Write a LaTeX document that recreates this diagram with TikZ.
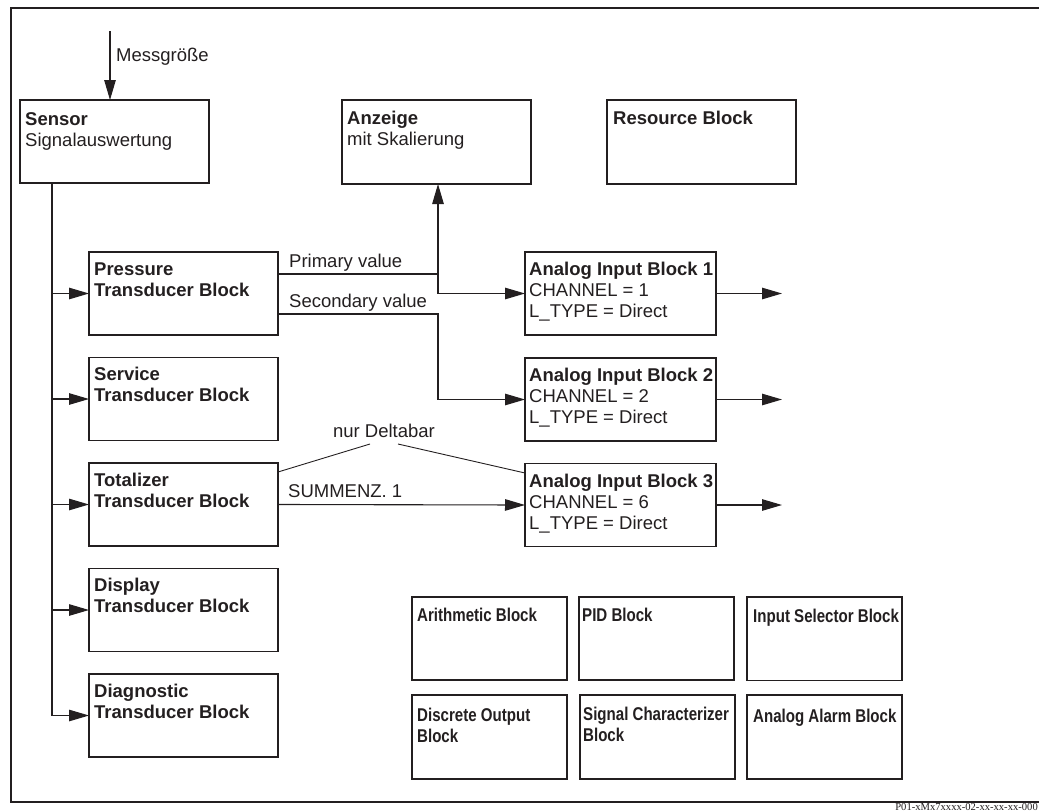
\documentclass[tikz,border=0pt]{standalone}
\usepackage{fontspec}
\setmainfont{Liberation Sans}
\newfontfamily\footfont{Liberation Serif}
\usepackage{graphicx}
\usetikzlibrary{arrows.meta,calc}
\definecolor{ink}{RGB}{35,31,32}
\newcommand{\cx}[1]{\scalebox{0.815}[1]{#1}}
\begin{document}
\begin{tikzpicture}[x=1pt,y=-1pt,
  box/.style={draw=ink, line width=1.4pt, inner sep=0pt, outer sep=0pt, anchor=north west, minimum height=83pt},
  wbox/.style={box, minimum width=189pt},
  abox/.style={box, minimum width=191pt},
  sbox/.style={box, minimum width=155pt},
  txt/.style={anchor=base west, inner sep=0pt, align=left, text=ink, font=\fontsize{18.5}{21}\selectfont},
  lab/.style={anchor=base west, inner sep=0pt, text=ink, font=\fontsize{18.5}{21}\selectfont},
  con/.style={draw=ink, line width=1.1pt},
  arr/.style={con, -{Triangle[length=20pt,width=11.5pt]}},
]
\useasboundingbox (0,0) rectangle (1039,811);

% frame
\draw[ink, line width=1.6pt] (1039,8) -- (11,8) -- (11,802) -- (1039,802);

% top row (text anchors at baseline of last line)
\node[wbox] (sensor) at (20,100) {};
\node[txt] (sensorT) at (25,146) {\textbf{Sensor}\\Signalauswertung};
\node[wbox, minimum height=84pt] (anz) at (342,100) {};
\node[txt] (anzT) at (347,145) {\textbf{Anzeige}\\mit Skalierung};
\node[wbox, minimum height=84pt] (res) at (607,100) {};
\node[txt] (resT) at (613,124) {\textbf{Resource Block}};

% input arrow
\coordinate (mtop) at (110,31);
\draw[arr] (mtop) -- (sensor.north -| mtop);
\node[lab] (mess) at (116,61) {Messgröße};

% transducer blocks
\node[wbox] (press) at (89,252) {};
\node[txt] (pressT) at (94,296.7) {\textbf{Pressure}\\\textbf{Transducer Block}};
\node[wbox] (serv) at (89,357.5) {};
\node[txt] (servT) at (94,401.5) {\textbf{Service}\\\textbf{Transducer Block}};
\node[wbox] (tot) at (89,463) {};
\node[txt] (totT) at (94,507) {\textbf{Totalizer}\\\textbf{Transducer Block}};
\node[wbox] (disp) at (89,568.5) {};
\node[txt] (dispT) at (94,612.5) {\textbf{Display}\\\textbf{Transducer Block}};
\node[wbox] (diag) at (89,674) {};
\node[txt] (diagT) at (94,718) {\textbf{Diagnostic}\\\textbf{Transducer Block}};

% trunk
\coordinate (t0) at (52,183);
\draw[con] (t0) -- (t0 |- diag.west);
\foreach \b in {press,serv,tot,disp,diag}{
  \draw[arr] (t0 |- \b.west) -- (\b.west);
}

% analog input blocks
\node[abox] (ai1) at (525,252) {};
\node[txt] (ai1T) at (529,317.5) {\textbf{Analog Input Block 1}\\CHANNEL = 1\\L\_TYPE = Direct};
\node[abox] (ai2) at (525,358) {};
\node[txt] (ai2T) at (529,423.5) {\textbf{Analog Input Block 2}\\CHANNEL = 2\\L\_TYPE = Direct};
\node[abox] (ai3) at (525,463.5) {};
\node[txt] (ai3T) at (529,529) {\textbf{Analog Input Block 3}\\CHANNEL = 6\\L\_TYPE = Direct};

% primary value
\coordinate (p1) at (278,274);
\coordinate (j1) at (438,274);
\draw[con] (p1) -- (j1);
\draw[arr] (j1) -- (anz.south -| j1);
\draw[arr] (j1) |- (ai1.west);
\node[lab] (pvT) at (289,267) {Primary value};

% secondary value
\coordinate (p2) at (278,314);
\coordinate (j2) at (438,314);
\draw[arr] (p2) -- (j2) |- (ai2.west);
\node[lab] (svT) at (289,307) {Secondary value};

% totalizer
\draw[arr] (tot.east) -- (ai3.west);
\node[lab] (sumT) at (288,497.5) {SUMMENZ. 1};

% nur Deltabar
\node[lab, anchor=base] (nd) at (384,437.5) {nur Deltabar};
\coordinate (nd1) at (370,444);
\coordinate (nd2) at (398,444);
\coordinate (tl) at (278,472);
\coordinate (ar) at (525,473);
\draw[ink, line width=0.9pt] (tl) -- (nd1);
\draw[ink, line width=0.9pt] (nd2) -- (ar);

% outputs
\coordinate (o1) at ($(ai1.east)+(66,0)$);
\coordinate (o2) at ($(ai2.east)+(66,0)$);
\coordinate (o3) at ($(ai3.east)+(66,0)$);
\draw[arr] (ai1.east) -- (o1);
\draw[arr] (ai2.east) -- (o2);
\draw[arr] (ai3.east) -- (o3);

% other function blocks
\node[sbox] (arith) at (412,597) {};
\node[txt] (arithT) at (417,621) {\cx{\textbf{Arithmetic Block}}};
\node[sbox] (pid) at (579,597) {};
\node[txt] (pidT) at (582,621) {\cx{\textbf{PID Block}}};
\node[sbox, minimum height=83.5pt] (isel) at (747,597) {};
\node[txt] (iselT) at (753,622.5) {\cx{\textbf{Input Selector Block}}};
\node[sbox, minimum height=84pt] (dout) at (412,695) {};
\node[txt] (doutT) at (417,742) {\cx{\textbf{Discrete Output}}\\\cx{\textbf{Block}}};
\node[sbox, minimum height=84pt] (sch) at (580,695) {};
\node[txt] (schT) at (583,741) {\cx{\textbf{Signal Characterizer}}\\\cx{\textbf{Block}}};
\node[sbox, minimum height=84pt] (alarm) at (747,695) {};
\node[txt] (alarmT) at (753,722) {\cx{\textbf{Analog Alarm Block}}};

% footer
\node[anchor=base east, inner sep=0pt, text=ink, font=\footfont\fontsize{10.6}{12}\selectfont] (foot) at (1038,810) {P01-xMx7xxxx-02-xx-xx-xx-000};
\end{tikzpicture}
\end{document}
